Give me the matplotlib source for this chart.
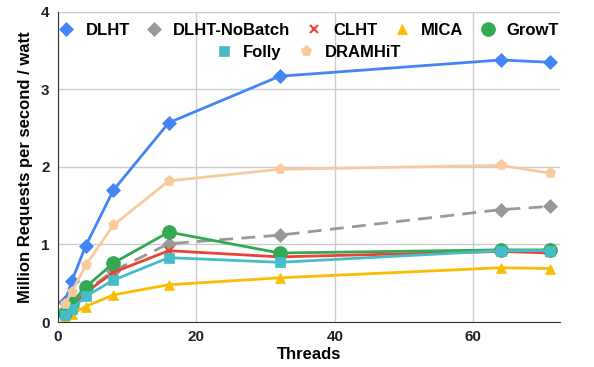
import matplotlib
matplotlib.use("agg")
import matplotlib.pyplot as plt

plt.rcParams['font.family'] = ['Liberation Sans', 'DejaVu Sans']
plt.rcParams['font.weight'] = 'bold'

# thread counts on x axis
threads = [1, 2, 4, 8, 16, 32, 64, 71]

# million requests per second per watt
dlht = [0.26, 0.53, 0.98, 1.70, 2.57, 3.17, 3.38, 3.35]
dlht_nobatch = [0.10, 0.20, 0.40, 0.66, 1.01, 1.12, 1.45, 1.49]
clht = [0.10, 0.20, 0.38, 0.64, 0.92, 0.84, 0.91, 0.89]
mica = [0.05, 0.10, 0.20, 0.35, 0.48, 0.57, 0.70, 0.69]
growt = [0.12, 0.25, 0.45, 0.76, 1.16, 0.89, 0.93, 0.93]
folly = [0.09, 0.17, 0.33, 0.54, 0.83, 0.77, 0.92, 0.92]
dramhit = [0.23, 0.39, 0.73, 1.25, 1.82, 1.97, 2.02, 1.92]

series = [
    ("DLHT", dlht, '#4285F4', 'D', '-', 7),
    ("DLHT-NoBatch", dlht_nobatch, '#999999', 'D', '--', 7),
    ("CLHT", clht, '#EA4335', 'x', '-', 6),
    ("MICA", mica, '#FBBC04', '^', '-', 7),
    ("GrowT", growt, '#34A853', 'o', '-', 10),
    ("Folly", folly, '#46BDC6', 's', '-', 7),
    ("DRAMHiT", dramhit, '#F9CB9C', 'p', '-', 8),
]

fig = plt.figure(figsize=(5.94, 3.67), dpi=100)
ax = fig.add_axes([0.0976, 0.1226, 0.845, 0.845])

handles = []
for name, vals, col, mk, ls, ms in series:
    h, = ax.plot(threads, vals, color=col, marker=mk, linestyle=ls, linewidth=2,
                 markersize=ms, markeredgewidth=1.5 if mk == 'x' else 0.5,
                 markeredgecolor=col, label=name)
    if ls == '--':
        h.set_dashes((5, 3))
    handles.append(h)

ax.set_xlim(0, 72.5)
ax.set_ylim(0, 4)
ax.set_xticks([0, 20, 40, 60])
ax.set_yticks([0, 1, 2, 3, 4])
ax.grid(True, color='#cccccc', linewidth=1)
ax.set_axisbelow(True)
for s in ['top', 'right']:
    ax.spines[s].set_visible(False)
ax.spines['left'].set_color('#333333')
ax.spines['bottom'].set_color('#333333')
ax.tick_params(length=0, labelsize=11, pad=6, colors='#222222')
ax.set_xlabel("Threads", fontsize=12, fontweight='bold', labelpad=2)
ax.set_ylabel("Million Requests per second / watt", fontsize=12, fontweight='bold', labelpad=6)

leg_kw = dict(frameon=False, fontsize=12, handlelength=0.9, columnspacing=1.0,
              handletextpad=0.7, borderaxespad=0, borderpad=0)
leg1 = ax.legend(handles=handles[:5], loc='center', bbox_to_anchor=(0.5, 0.939),
                 ncol=5, **leg_kw)
for h in leg1.legend_handles:
    h.set_linestyle('None')
ax.add_artist(leg1)
leg2 = ax.legend(handles=handles[5:], loc='center', bbox_to_anchor=(0.5, 0.868),
                 ncol=2, **leg_kw)
for h in leg2.legend_handles:
    h.set_linestyle('None')

fig.savefig('out.png', dpi=100)
